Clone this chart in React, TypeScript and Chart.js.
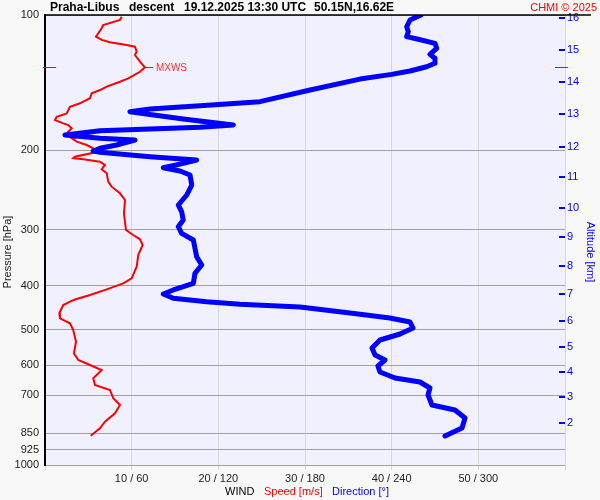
import React, { useEffect, useRef } from "react";
import { Chart, registerables } from "chart.js";
Chart.register(...registerables);

// ---- Data ----
const speedPressure = [100.9, 102.6, 105.3, 107.0, 109.8, 111.7, 113.6, 115.0, 116.6, 117.6, 120.6, 122.7, 127.0, 130.7, 133.7, 138.3, 140.7, 144.3, 146.8, 149.3, 153.1, 157.1, 159.9, 165.4, 168.3, 171.2, 174.1, 175.6, 178.6, 181.7, 184.8, 186.4, 187.9, 191.2, 194.5, 197.8, 201.6, 206.5, 208.2, 209.3, 211.8, 215.4, 220.2, 224.7, 234.6, 240.7, 249.0, 257.7, 275.9, 300.5, 308.3, 315.1, 324.4, 341.5, 362.5, 384.7, 394.7, 407.0, 419.0, 428.7, 433.6, 441.0, 460.1, 472.1, 484.4, 501.2, 532.1, 564.6, 584.3, 599.5, 615.1, 641.6, 664.0, 681.3, 710.9, 735.6, 767.5, 801.3, 828.7, 860.8];
const speedValues = [8.85, 8.65, 6.72, 6.54, 6.15, 5.88, 6.54, 7.5, 9.42, 10.38, 10.58, 10.38, 10.96, 11.53, 10.96, 9.61, 8.65, 7.12, 6.34, 5.39, 5.19, 4.04, 2.88, 2.5, 1.35, 1.15, 2.11, 2.69, 3.08, 2.69, 3.26, 4.04, 3.08, 3.66, 4.81, 5.57, 5.96, 3.46, 3.26, 4.42, 6.34, 6.92, 6.54, 7.12, 7.3, 7.69, 8.65, 9.23, 9.11, 9.34, 10.18, 10.96, 11.27, 10.76, 10.58, 10.0, 9.03, 7.12, 5.19, 3.46, 2.88, 2.11, 1.65, 1.73, 2.88, 3.26, 3.58, 3.34, 3.84, 5.19, 6.54, 5.57, 5.77, 7.5, 7.88, 8.65, 8.07, 6.92, 6.34, 5.27];

const dirPressure = [100, 102.6, 106.2, 108.9, 111.7, 113.2, 115.6, 118.6, 122.3, 124.8, 128.0, 130.3, 133.2, 135.5, 138.8, 146.8, 155.8, 159.1, 161.8, 164.0, 166.3, 170.3, 175.6, 177.7, 179.2, 180.8, 184.8, 187.9, 189.6, 194.5, 197.8, 200.6, 201.9, 206.5, 210.0, 213.6, 218.5, 222.2, 226.8, 238.7, 251.2, 264.4, 273.6, 285.5, 295.4, 305.6, 316.2, 344.4, 359.4, 375.0, 394.7, 408.4, 416.9, 426.2, 433.6, 439.4, 445.5, 459.4, 471.3, 481.1, 496.1, 511.6, 527.5, 549.5, 569.6, 584.3, 602.6, 621.3, 640.7, 654.0, 674.4, 699.0, 735.6, 754.6, 786.1, 827.4, 862.0];
const dirValues = [260.3, 252.7, 250.4, 251.5, 250.4, 258.4, 270, 271.2, 266.5, 270, 270, 264.2, 252.7, 240, 218, 183.5, 148.8, 107.3, 72.7, 58.8, 72.7, 95.7, 130.4, 107.3, 72.7, 38.1, 13.8, 38.1, 62.3, 49.6, 38.1, 33.4, 38.1, 72.7, 105, 95.7, 81.9, 93.5, 100.4, 101.6, 98.1, 92.3, 94.6, 95.7, 92.3, 94.6, 102.7, 105, 108.5, 103.8, 102.7, 88.8, 81.9, 88.8, 111.9, 135, 176.5, 211.2, 238.8, 252.7, 254.8, 245.8, 231.9, 226.4, 228.5, 235.4, 230.5, 231.9, 242.3, 259.6, 266.5, 265.2, 267.9, 283.8, 290.8, 288.7, 276.9];

const pressureTicks = [100, 200, 300, 400, 500, 600, 700, 850, 925, 1000];
const altitudeKm = [16, 15, 14, 13, 12, 11, 10, 9, 8, 7, 6, 5, 4, 3, 2];
const altitudePressure = [101.5, 119.6, 140.9, 166, 196, 229, 268.5, 311, 361, 417, 479, 547, 621, 706, 807];
const speedTicks = [0, 10, 20, 30, 40, 50, 60];

const FONT = "'Liberation Sans', Arial, sans-serif";
const BLUE = "#0000ff";
const RED = "#ff0000";

const decor = {
  id: "decor",
  beforeDraw(chart: any) {
    const { ctx, chartArea: a } = chart;
    ctx.save();
    ctx.fillStyle = "#f8f8f8";
    ctx.fillRect(0, 0, chart.width, chart.height);
    ctx.fillStyle = "#f0f0ff";
    ctx.fillRect(a.left, a.top, a.right - a.left, a.bottom - a.top);
    ctx.restore();
  },
  afterDraw(chart: any) {
    const { ctx, chartArea: a, scales } = chart;
    const yAlt = scales.yAlt;
    const y = scales.y;
    const x = scales.x;
    ctx.save();
    // top line
    ctx.strokeStyle = "#000";
    ctx.lineWidth = 1.5;
    ctx.beginPath();
    ctx.moveTo(a.left - 1, a.top);
    ctx.lineTo(591, a.top);
    ctx.stroke();
    // altitude tick marks
    ctx.strokeStyle = BLUE;
    ctx.lineWidth = 2;
    altitudePressure.forEach((p) => {
      const py = Math.round(yAlt.getPixelForValue(p));
      ctx.beginPath();
      ctx.moveTo(a.right - 6, py);
      ctx.lineTo(a.right, py);
      ctx.stroke();
    });
    // MXWS
    let mi = 0;
    speedValues.forEach((v, i) => { if (v > speedValues[mi]) mi = i; });
    const my = Math.round(y.getPixelForValue(speedPressure[mi])) + 0.5;
    const mx = x.getPixelForValue(speedValues[mi]);
    ctx.strokeStyle = RED;
    ctx.lineWidth = 1;
    ctx.beginPath();
    ctx.moveTo(a.left - 2, my);
    ctx.lineTo(a.left + 11, my);
    ctx.moveTo(a.right - 10, my);
    ctx.lineTo(a.right + 3, my);
    ctx.moveTo(mx, my);
    ctx.lineTo(mx + 8, my);
    ctx.stroke();
    ctx.fillStyle = "#ff3030";
    ctx.font = `10px ${FONT}`;
    ctx.textBaseline = "middle";
    ctx.textAlign = "left";
    ctx.fillText("MXWS", mx + 11, my + 1);

    // title
    ctx.fillStyle = "#000";
    ctx.font = `bold 12px ${FONT}`;
    ctx.fillText("Praha-Libus", 50, 8);
    ctx.fillText("descent", 129, 8);
    ctx.fillText("19.12.2025 13:30 UTC", 184, 8);
    ctx.fillText("50.15N,16.62E", 314, 8);
    ctx.fillStyle = RED;
    ctx.font = `11px ${FONT}`;
    ctx.textAlign = "right";
    ctx.fillText("CHMI \u00a9 2025", 597, 8);

    // bottom legend
    ctx.textAlign = "left";
    ctx.font = `11px ${FONT}`;
    ctx.fillStyle = "#000";
    ctx.fillText("WIND", 225, 492);
    ctx.fillStyle = RED;
    ctx.fillText("Speed [m/s]", 264, 492);
    ctx.fillStyle = BLUE;
    ctx.fillText("Direction [\u00b0]", 332, 492);

    // axis titles
    ctx.textAlign = "center";
    ctx.save();
    ctx.translate(8, 252);
    ctx.rotate(-Math.PI / 2);
    ctx.fillStyle = "#222";
    ctx.fillText("Pressure [hPa]", 0, 0);
    ctx.restore();
    ctx.save();
    ctx.translate(590, 252);
    ctx.rotate(Math.PI / 2);
    ctx.fillStyle = BLUE;
    ctx.fillText("Altitude [km]", 0, 0);
    ctx.restore();
    ctx.restore();
  },
};

export default function App() {
  const ref = useRef<HTMLCanvasElement>(null);
  useEffect(() => {
    document.body.style.margin = "0";
    const chart = new Chart(ref.current as HTMLCanvasElement, {
      type: "scatter",
      data: {
        datasets: [
          {
            label: "Direction",
            data: dirValues.map((d, i) => ({ x: d, y: dirPressure[i] })),
            xAxisID: "x2",
            yAxisID: "y",
            showLine: true,
            borderColor: BLUE,
            backgroundColor: BLUE,
            borderWidth: 5,
            pointRadius: 0,
            borderJoinStyle: "round",
            borderCapStyle: "round",
            tension: 0,
          },
          {
            label: "Speed",
            data: speedValues.map((s, i) => ({ x: s, y: speedPressure[i] })),
            xAxisID: "x",
            yAxisID: "y",
            showLine: true,
            borderColor: RED,
            backgroundColor: RED,
            borderWidth: 2,
            pointRadius: 0,
            tension: 0,
          },
        ],
      },
      options: {
        responsive: false,
        animation: false,
        events: [],
        layout: { padding: { top: 15, left: 0, right: 0, bottom: 0 } },
        plugins: { legend: { display: false }, tooltip: { enabled: false }, title: { display: false } },
        scales: {
          x: {
            type: "linear",
            position: "bottom",
            min: 0,
            max: 60,
            afterFit: (s: any) => { s.height = 35; },
            afterBuildTicks: (s: any) => { s.ticks = speedTicks.map((v) => ({ value: v })); },
            ticks: {
              autoSkip: false,
              maxRotation: 0,
              padding: 2,
              color: "#222",
              font: { family: FONT, size: 11 },
              callback: (v: any) => (v === 0 || v === 60 ? "" : `${v} / ${v * 6}`),
            },
            grid: { color: "#d8d8d8", lineWidth: 1, drawTicks: true, tickLength: 5 },
            border: { display: false },
          },
          x2: {
            type: "linear",
            display: false,
            position: "bottom",
            min: 0,
            max: 360,
          },
          y: {
            type: "logarithmic",
            position: "left",
            min: 100,
            max: 1000,
            reverse: true,
            afterFit: (s: any) => { s.width = 45; },
            afterBuildTicks: (s: any) => { s.ticks = pressureTicks.map((v) => ({ value: v })); },
            ticks: {
              autoSkip: false,
              padding: 6,
              color: "#222",
              font: { family: FONT, size: 11 },
              callback: (v: any) => String(v),
            },
            grid: { color: "#a0a0a0", lineWidth: 1, drawTicks: false },
            border: { display: true, color: "#000", width: 2 },
          },
          yAlt: {
            type: "logarithmic",
            position: "right",
            min: 100,
            max: 1000,
            reverse: true,
            afterFit: (s: any) => { s.width = 35; },
            afterBuildTicks: (s: any) => { s.ticks = altitudePressure.map((v) => ({ value: v })); },
            ticks: {
              autoSkip: false,
              padding: 2,
              color: BLUE,
              font: { family: FONT, size: 11 },
              callback: (_v: any, i: number) => String(altitudeKm[i]),
            },
            grid: { display: false, drawTicks: false },
            border: { display: false },
          },
        },
      },
      plugins: [decor],
    });
    return () => chart.destroy();
  }, []);
  return (
    <div style={{ position: "absolute", left: 0, top: 0, width: 600, height: 500 }}>
      <canvas ref={ref} width={600} height={500} style={{ display: "block" }} />
    </div>
  );
}
